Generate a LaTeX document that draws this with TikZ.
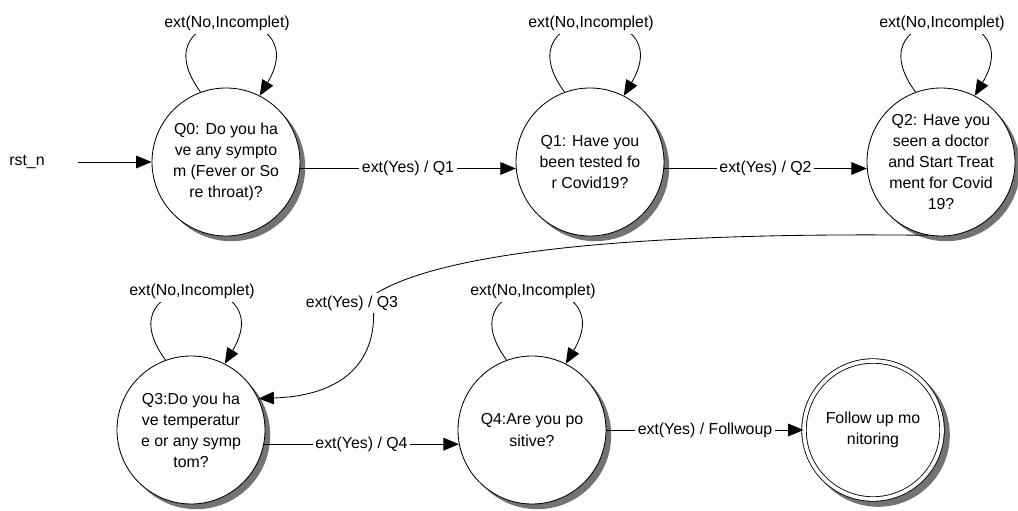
\documentclass[tikz,border=0pt]{standalone}
\usepackage{fontspec}
\setmainfont{Liberation Sans}
\usepackage{tikz}
\usetikzlibrary{arrows.meta,calc}

\begin{document}
\begin{tikzpicture}[
    font=\fontsize{11.3}{15}\selectfont,
    >={Triangle[length=11pt,width=9pt]},
    qstate/.style={circle, draw, line width=0.6pt, fill=white, minimum size=3.7cm, inner sep=0pt, align=center},
    fstate/.style={qstate, minimum size=3.45cm, double, double distance=2.6pt},
    shadowfill/.style={fill=black!55},
    lbl/.style={fill=white, inner sep=2pt},
    conn/.style={->, line width=0.6pt}]
    \fill[white] (0,0) rectangle (25.45,12.75);
    \useasboundingbox (0,0) rectangle (25.45,12.75);

    % centres
    \coordinate (c0) at (5.65,8.7);
    \coordinate (c1) at (14.75,8.7);
    \coordinate (c2) at (23.525,8.7);
    \coordinate (c3) at (4.775,2.0);
    \coordinate (c4) at (13.3,2.0);
    \coordinate (c5) at (21.825,2.0);

    % shadows
    \fill[shadowfill] (c0) ++(0.13,-0.13) circle (1.85);
    \fill[shadowfill] (c1) ++(0.13,-0.13) circle (1.85);
    \fill[shadowfill] (c2) ++(0.13,-0.13) circle (1.85);
    \fill[shadowfill] (c3) ++(0.13,-0.13) circle (1.85);
    \fill[shadowfill] (c4) ++(0.13,-0.13) circle (1.85);
    \fill[shadowfill] (c5) ++(0.13,-0.13) circle (1.79);

    % states
    \node[qstate] (Q0) at (c0) {Q0: Do you ha\\ve any sympto\\m (Fever or So\\re throat)?};
    \node[qstate] (Q1) at (c1) {Q1: Have you\\been tested fo\\r Covid19?};
    \node[qstate] (Q2) at (c2) {Q2: Have you\\seen a doctor\\and Start Treat\\ment for Covid\\19?};
    \node[qstate] (Q3) at (c3) {Q3:Do you ha\\ve temperatur\\e or any symp\\tom?};
    \node[qstate] (Q4) at (c4) {Q4:Are you po\\sitive?};
    \node[fstate] (F) at (c5) {Follow up mo\\nitoring};

    % reset
    \node (rst) at (0.675,8.7) {rst\_n};
    \draw[conn, shorten <=20pt] (rst) -- (Q0);

    % self loops
    \draw[conn] (Q0.110) .. controls ($(Q0)+(-2.3,4)$) and ($(Q0)+(2.3,4.1)$) .. (Q0.63) node[lbl,midway] {ext(No,Incomplet)};
    \draw[conn] (Q1.110) .. controls ($(Q1)+(-2.3,4)$) and ($(Q1)+(2.3,4.1)$) .. (Q1.63) node[lbl,midway] {ext(No,Incomplet)};
    \draw[conn] (Q2.110) .. controls ($(Q2)+(-2.3,4)$) and ($(Q2)+(2.3,4.1)$) .. (Q2.63) node[lbl,midway] {ext(No,Incomplet)};
    \draw[conn] (Q3.110) .. controls ($(Q3)+(-2.3,4)$) and ($(Q3)+(2.3,4.1)$) .. (Q3.63) node[lbl,midway] {ext(No,Incomplet)};
    \draw[conn] (Q4.110) .. controls ($(Q4)+(-2.3,4)$) and ($(Q4)+(2.3,4.1)$) .. (Q4.63) node[lbl,midway] {ext(No,Incomplet)};

    % transitions
    \draw[conn] (Q0.-5) -- (Q1.185) node[lbl,midway] {ext(Yes) / Q1};
    \draw[conn] (Q1.-5) -- (Q2.185) node[lbl,midway] {ext(Yes) / Q2};
    \draw[conn] (Q2.260) .. controls (16.25,6.95) and (11.0,6.5) .. (9.3,5.35)
        .. controls (9.5,4.125) and (9.0,2.875) .. (Q3.25);
    \node[lbl] (yes3) at (8.8,5.175) {ext(Yes) / Q3};
    \draw[conn] (Q3.-11) -- (Q4.191) node[lbl,midway] {ext(Yes) / Q4};
    \draw[conn] (Q4) -- (F) node[lbl,midway] {ext(Yes) / Follwoup};
\end{tikzpicture}
\end{document}
